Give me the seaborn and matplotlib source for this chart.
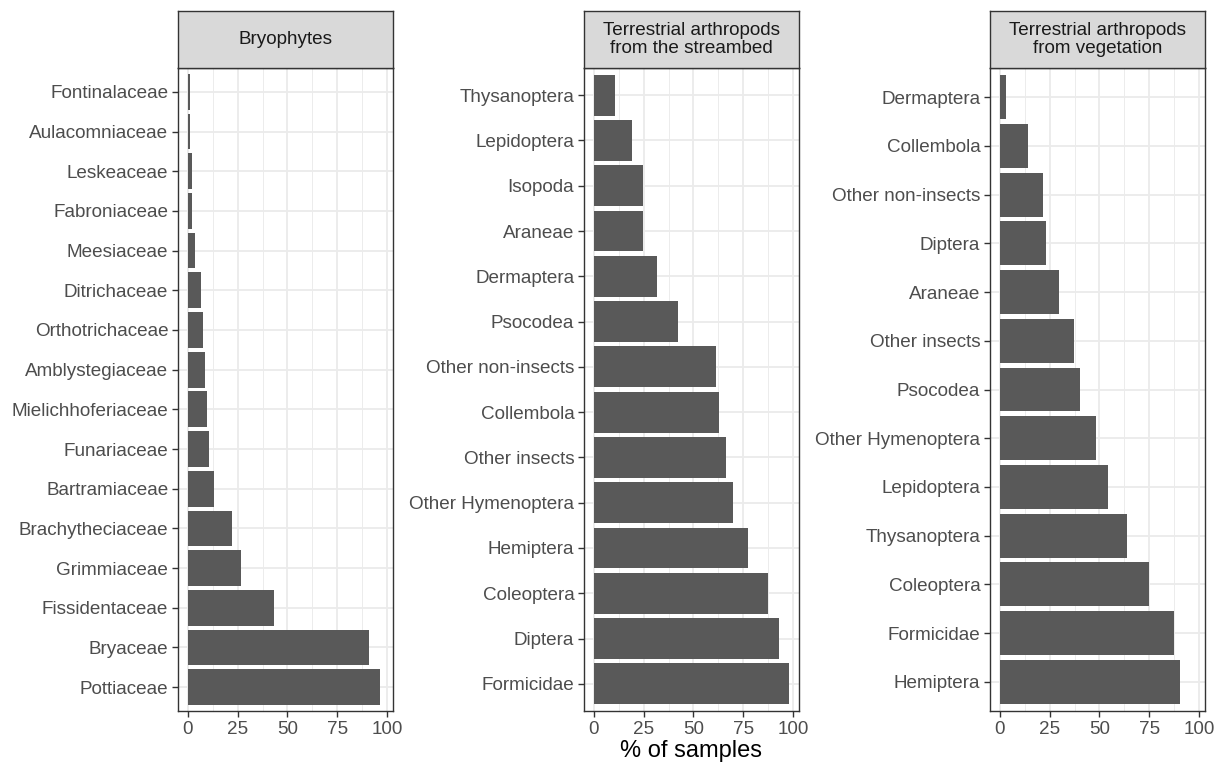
import numpy as np
import pandas as pd
import seaborn as sns
import matplotlib.pyplot as plt
from matplotlib.ticker import MultipleLocator

# category order is top to bottom as drawn
bryo_taxa = ['Fontinalaceae', 'Aulacomniaceae', 'Leskeaceae', 'Fabroniaceae', 'Meesiaceae',
             'Ditrichaceae', 'Orthotrichaceae', 'Amblystegiaceae', 'Mielichhoferiaceae',
             'Funariaceae', 'Bartramiaceae', 'Brachytheciaceae', 'Grimmiaceae',
             'Fissidentaceae', 'Bryaceae', 'Pottiaceae']
bryo_pct = [1.0, 0.9, 2.0, 2.0, 3.8, 6.8, 7.6, 8.6, 9.6, 10.6, 13.4, 22.0, 26.7, 43.1, 91.0, 96.6]

stream_taxa = ['Thysanoptera', 'Lepidoptera', 'Isopoda', 'Araneae', 'Dermaptera', 'Psocodea',
               'Other non-insects', 'Collembola', 'Other insects', 'Other Hymenoptera',
               'Hemiptera', 'Coleoptera', 'Diptera', 'Formicidae']
stream_pct = [10.5, 19.2, 24.5, 24.5, 31.5, 42.0, 61.3, 63.0, 66.5, 70.0, 77.2, 87.5, 92.8, 98.0]

veg_taxa = ['Dermaptera', 'Collembola', 'Other non-insects', 'Diptera', 'Araneae',
            'Other insects', 'Psocodea', 'Other Hymenoptera', 'Lepidoptera', 'Thysanoptera',
            'Coleoptera', 'Formicidae', 'Hemiptera']
veg_pct = [3.0, 14.0, 21.7, 23.3, 29.5, 37.3, 40.3, 48.2, 54.5, 63.8, 74.8, 87.2, 90.3]

panel_titles = ['Bryophytes', 'Terrestrial arthropods\nfrom the streambed',
                'Terrestrial arthropods\nfrom vegetation']
x_ticks = [0, 25, 50, 75, 100]

plt.rcParams['font.family'] = ['Liberation Sans', 'DejaVu Sans']

W, H = 1223, 766
fig = plt.figure(figsize=(W / 100, H / 100), dpi=100)

panel_left = [178, 584, 990]
pw = 215
top, bottom, strip_top = 68, 711, 11

xmax = max(bryo_pct + stream_pct + veg_pct)
xlim = (-0.05 * xmax, 1.05 * xmax)

data = [(bryo_taxa, bryo_pct), (stream_taxa, stream_pct), (veg_taxa, veg_pct)]

for i, (taxa, pct) in enumerate(data):
    df = pd.DataFrame({'taxon': taxa, 'pct': pct})
    ax = fig.add_axes([panel_left[i] / W, (H - bottom) / H, pw / W, (bottom - top) / H])
    sns.barplot(data=df, x='pct', y='taxon', order=taxa, color='#595959', width=0.9,
                saturation=1, ax=ax, zorder=3)
    ax.set_facecolor('white')
    ax.set_xlim(*xlim)
    ax.set_ylim(len(taxa) - 1 + 0.6, -0.6)
    ax.set_xticks(x_ticks)
    ax.xaxis.set_minor_locator(MultipleLocator(12.5))
    ax.grid(which='major', color='#EBEBEB', lw=1.3, zorder=0)
    ax.grid(which='minor', axis='x', color='#EBEBEB', lw=0.65, zorder=0)
    ax.set_axisbelow(True)
    for s in ax.spines.values():
        s.set_color('#333333')
        s.set_linewidth(1.0)
    ax.tick_params(which='major', length=4, width=1.0, color='#333333',
                   labelsize=13.6, labelcolor='#4D4D4D', pad=3)
    ax.tick_params(which='minor', length=0)
    ax.set_ylabel('')
    ax.set_xlabel('% of samples' if i == 1 else '', fontsize=17, color='black', labelpad=2)

    # facet strip
    sax = fig.add_axes([panel_left[i] / W, (H - top) / H, pw / W, (top - strip_top) / H])
    sax.set_facecolor('#D9D9D9')
    sax.set_xticks([])
    sax.set_yticks([])
    for s in sax.spines.values():
        s.set_color('#333333')
        s.set_linewidth(1.0)
    sax.text(0.5, 0.5, panel_titles[i], ha='center', va='center', fontsize=13.6,
             color='#1A1A1A', transform=sax.transAxes, linespacing=1.15)

fig.savefig('out.png', dpi=100, facecolor='white')
plt.close('all')
